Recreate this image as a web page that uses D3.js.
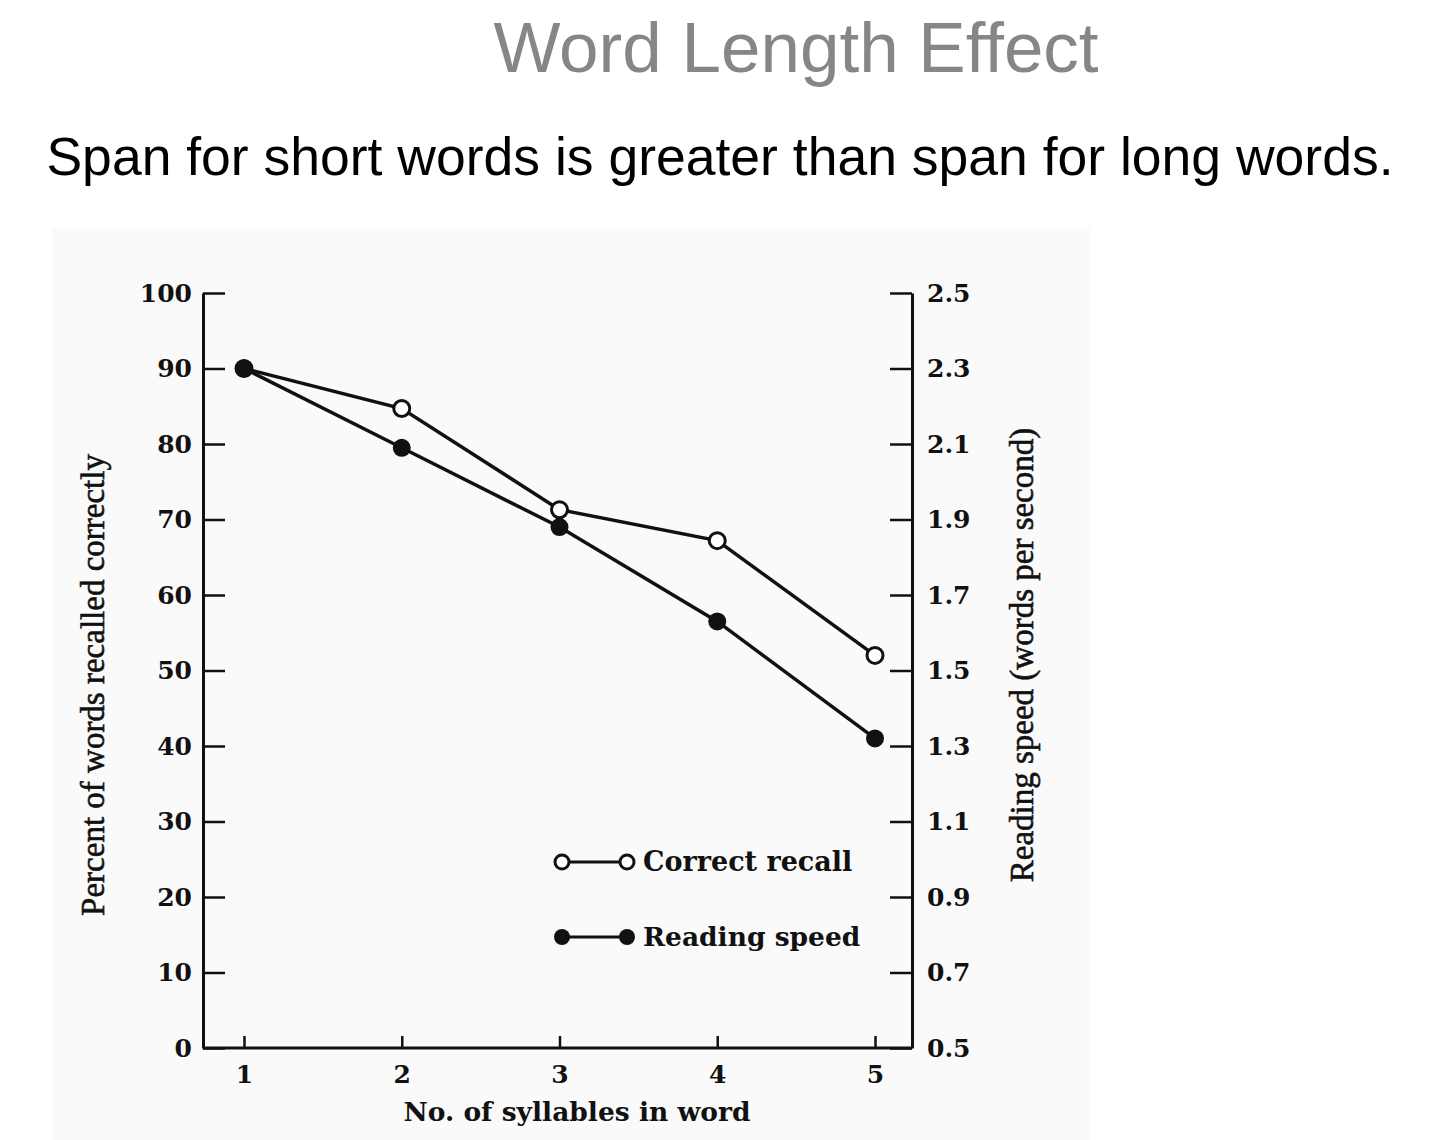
<!DOCTYPE html>
<html>
<head>
<meta charset="utf-8">
<script src="https://cdn.jsdelivr.net/npm/d3@7"></script>
<style>
  html, body { margin: 0; padding: 0; background: #fff; }
  svg { display: block; }
</style>
</head>
<body>
<div id="vis"></div>
<script>
// chart data
var syllables = [1, 2, 3, 4, 5];
var recallPct = [90, 84.7, 71.3, 67.2, 52];
var readingSpeed = [2.30, 2.09, 1.88, 1.63, 1.32];
var leftTicks = [0, 10, 20, 30, 40, 50, 60, 70, 80, 90, 100];
var rightTicks = [0.5, 0.7, 0.9, 1.1, 1.3, 1.5, 1.7, 1.9, 2.1, 2.3, 2.5];
var seriesNames = ["Correct recall", "Reading speed"];

var title = "Word Length Effect";
var subtitle = "Span for short words is greater than span for long words.";
var xTitle = "No. of syllables in word";
var yLeftTitle = "Percent of words recalled correctly";
var yRightTitle = "Reading speed (words per second)";

var width = 1440, height = 1140;
var plot = {left: 203, right: 912, top: 293, bottom: 1048};
var serif = "'DejaVu Serif', serif";

var svg = d3.select("#vis").append("svg")
    .attr("width", width)
    .attr("height", height);

// faint backdrop of the scanned figure
svg.append("rect")
    .attr("x", 52).attr("y", 228)
    .attr("width", 1038).attr("height", 912)
    .attr("fill", "#fafafa");

svg.append("text")
    .attr("x", 796).attr("y", 72)
    .attr("text-anchor", "middle")
    .attr("font-family", "'Liberation Sans', Arial, sans-serif")
    .attr("font-size", 71)
    .attr("fill", "#868686")
    .text(title);

svg.append("text")
    .attr("x", 720).attr("y", 175)
    .attr("text-anchor", "middle")
    .attr("font-family", "'Liberation Sans', Arial, sans-serif")
    .attr("font-size", 53.5)
    .attr("fill", "#000")
    .text(subtitle);

var x = d3.scaleLinear()
    .domain([1, 5])
    .range([244, 875]);

var yLeft = d3.scaleLinear()
    .domain([0, 100])
    .range([plot.bottom, plot.top]);

var yRight = d3.scaleLinear()
    .domain([0.5, 2.5])
    .range([plot.bottom, plot.top]);

function styleAxis(g) {
  g.selectAll("path.domain").attr("stroke", "#111").attr("stroke-width", 3);
  g.selectAll(".tick line").attr("stroke", "#111").attr("stroke-width", 2.5);
  g.selectAll(".tick text")
    .attr("fill", "#111")
    .attr("font-family", serif)
    .attr("font-weight", "bold")
    .attr("font-size", 25);
}

svg.append("g")
    .attr("transform", "translate(" + plot.left + ",0)")
    .call(d3.axisLeft(yLeft).tickValues(leftTicks)
      .tickSizeInner(-22).tickSizeOuter(0).tickPadding(11))
    .call(styleAxis);

svg.append("g")
    .attr("transform", "translate(" + plot.right + ",0)")
    .call(d3.axisRight(yRight).tickValues(rightTicks)
      .tickSizeInner(-22).tickSizeOuter(0).tickPadding(15)
      .tickFormat(d3.format(".1f")))
    .call(styleAxis);

// bottom axis runs between the two vertical axes
svg.append("line")
    .attr("x1", plot.left).attr("x2", plot.right)
    .attr("y1", plot.bottom).attr("y2", plot.bottom)
    .attr("stroke", "#111").attr("stroke-width", 3);

var xAxis = svg.append("g")
    .attr("transform", "translate(0," + plot.bottom + ")")
    .call(d3.axisBottom(x).tickValues(syllables)
      .tickSizeInner(-12).tickSizeOuter(0).tickPadding(17)
      .tickFormat(d3.format("d")))
    .call(styleAxis);
xAxis.select("path.domain").remove();

// axis titles
svg.append("text")
    .attr("x", 577).attr("y", 1121)
    .attr("text-anchor", "middle")
    .attr("font-family", serif)
    .attr("font-weight", "bold")
    .attr("font-size", 26.5)
    .attr("fill", "#111")
    .text(xTitle);

svg.append("text")
    .attr("transform", "translate(104,685) rotate(-90)")
    .attr("text-anchor", "middle")
    .attr("font-family", "'Liberation Serif', 'Times New Roman', serif")
    .attr("font-size", 33)
    .attr("fill", "#111")
    .attr("stroke", "#111").attr("stroke-width", 0.6)
    .text(yLeftTitle);

svg.append("text")
    .attr("transform", "translate(1033,655) rotate(-90)")
    .attr("text-anchor", "middle")
    .attr("font-family", "'Liberation Serif', 'Times New Roman', serif")
    .attr("font-size", 33)
    .attr("fill", "#111")
    .attr("stroke", "#111").attr("stroke-width", 0.6)
    .text(yRightTitle);

// series
var recallPts = syllables.map(function(s, i) { return {x: s, y: recallPct[i]}; });
var speedPts = syllables.map(function(s, i) { return {x: s, y: readingSpeed[i]}; });

var recallLine = d3.line()
    .x(function(d) { return x(d.x); })
    .y(function(d) { return yLeft(d.y); });

var speedLine = d3.line()
    .x(function(d) { return x(d.x); })
    .y(function(d) { return yRight(d.y); });

svg.append("path")
    .datum(recallPts)
    .attr("d", recallLine)
    .attr("fill", "none")
    .attr("stroke", "#111")
    .attr("stroke-width", 3.5);

svg.append("path")
    .datum(speedPts)
    .attr("d", speedLine)
    .attr("fill", "none")
    .attr("stroke", "#111")
    .attr("stroke-width", 3.5);

svg.selectAll(".recall-dot")
    .data(recallPts)
    .enter().append("circle")
    .attr("class", "recall-dot")
    .attr("cx", function(d) { return x(d.x); })
    .attr("cy", function(d) { return yLeft(d.y); })
    .attr("r", 8)
    .attr("fill", "#fff")
    .attr("stroke", "#111")
    .attr("stroke-width", 3);

svg.selectAll(".speed-dot")
    .data(speedPts)
    .enter().append("circle")
    .attr("class", "speed-dot")
    .attr("cx", function(d) { return x(d.x); })
    .attr("cy", function(d) { return yRight(d.y); })
    .attr("r", 9)
    .attr("fill", "#111");

// legend
var legend = svg.append("g");
var legendRows = [
  {name: seriesNames[0], y: 862, filled: false},
  {name: seriesNames[1], y: 937, filled: true}
];

legendRows.forEach(function(row) {
  legend.append("line")
      .attr("x1", 562).attr("x2", 627)
      .attr("y1", row.y).attr("y2", row.y)
      .attr("stroke", "#111").attr("stroke-width", 3);
  [562, 627].forEach(function(cx) {
    legend.append("circle")
        .attr("cx", cx).attr("cy", row.y)
        .attr("r", row.filled ? 8 : 7)
        .attr("fill", row.filled ? "#111" : "#fff")
        .attr("stroke", "#111")
        .attr("stroke-width", row.filled ? 0 : 3);
  });
  legend.append("text")
      .attr("x", 643).attr("y", row.y + 9)
      .attr("font-family", serif)
      .attr("font-weight", "bold")
      .attr("font-size", row.filled ? 26.5 : 27)
      .attr("fill", "#111")
      .text(row.name);
});
</script>
</body>
</html>
